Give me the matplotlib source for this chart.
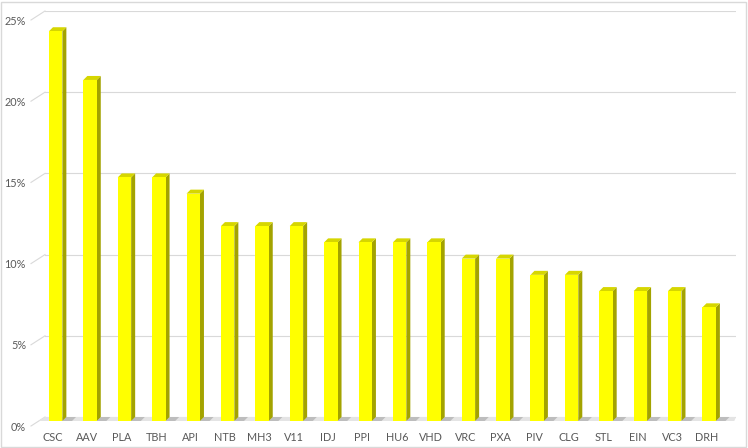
import numpy as np
import matplotlib.pyplot as plt
from matplotlib.patches import Polygon, Rectangle

# dữ liệu (%)
tickers = ['CSC', 'AAV', 'PLA', 'TBH', 'API', 'NTB', 'MH3', 'V11', 'IDJ', 'PPI',
           'HU6', 'VHD', 'VRC', 'PXA', 'PIV', 'CLG', 'STL', 'EIN', 'VC3', 'DRH']
values = [24, 21, 15, 15, 14, 12, 12, 12, 11, 11,
          11, 11, 10, 10, 9, 9, 8, 8, 8, 7]
y_ticks = [0, 5, 10, 15, 20, 25]

W, H = 748, 448
px_x = 34.4    # pixel cho 1 danh mục
px_y = 16.24   # pixel cho 1%
d = 4 / px_y          # độ lệch mặt trước so với tường sau
dx = 4 / px_x         # chiều sâu cột
bw = 0.39             # độ rộng mặt trước

fig = plt.figure(figsize=(W / 100, H / 100), dpi=100)
fig.patch.set_facecolor('white')
ax = fig.add_axes([45 / W, (H - 421) / H, (736 - 45) / W, (421 - 11) / H])
x0, x1 = -0.31, 19.78
ax.set_xlim(x0, x1)
ax.set_ylim(-d, 25)
ax.axis('off')

# khung ngoài
fig.patches.append(Rectangle((1 / W, 1 / H), (W - 3) / W, (H - 3) / H,
                             transform=fig.transFigure, fill=False,
                             edgecolor='#d9d9d9', linewidth=1))

# lưới + đường xiên bên trái
lx, ly = -14 / px_x, -9 / px_y
for v in y_ticks:
    ax.plot([x0, x1], [v, v], color='#d9d9d9', lw=0.8, zorder=1)
    ax.plot([x0, x0 + lx], [v, v + ly], color='#d9d9d9', lw=0.8,
            clip_on=False, zorder=1)
    ax.text(x0 - 19 / px_x, v - 10 / px_y, f'{v}%', ha='right', va='center',
            fontsize=7.8, color='#595959', family='Lato')

# sàn
floor = Polygon([(x0, 0), (x1, 0), (x1 - 0.05, -d), (x0 + lx * 0.45, -d)],
                closed=True, facecolor='#e4e4e4', edgecolor='none',
                clip_on=False, zorder=1)
ax.add_patch(floor)

x = np.arange(len(tickers))
for xi, v in zip(x, values):
    l, r = xi - bw / 2, xi + bw / 2
    # bóng trên sàn
    ax.add_patch(Polygon([(r, -d), (r + 0.28, -d), (r + 0.28 + dx, 0), (r + dx, 0)],
                         closed=True, facecolor='#bdbdbd', edgecolor='none',
                         zorder=2, clip_on=False))
    # mặt bên
    ax.add_patch(Polygon([(r, -d), (r + dx, 0), (r + dx, v), (r, v - d)],
                         closed=True, facecolor='#a3a300', edgecolor='none', zorder=3))
    # mặt trên
    ax.add_patch(Polygon([(l, v - d), (r, v - d), (r + dx, v), (l + dx, v)],
                         closed=True, facecolor='#d6d600', edgecolor='none', zorder=3))
ax.bar(x, values, bottom=-d, width=bw, color='#ffff00',
       edgecolor='none', zorder=4)

for xi, t in zip(x, tickers):
    ax.text(xi - 0.08, -d - 16 / px_y, t, ha='center', va='center',
            fontsize=7.8, color='#595959', family='Lato')

fig.savefig('out.png', dpi=100)
